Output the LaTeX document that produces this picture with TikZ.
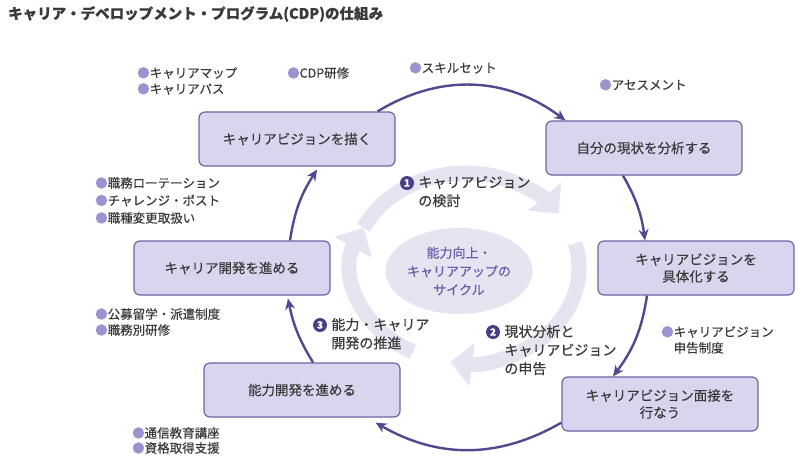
\documentclass[tikz,border=0pt]{standalone}
\usepackage{fontspec}
\setmainfont{Noto Sans CJK JP}[FakeBold=0.4]
\usepackage{tikz}
\usetikzlibrary{positioning, arrows.meta, shapes.geometric}
\definecolor{boxfill}{HTML}{D9D5EE}
\definecolor{boxline}{HTML}{6F64A4}
\definecolor{flowc}{HTML}{54468F}
\definecolor{ringc}{HTML}{E6E4F1}
\definecolor{dotc}{HTML}{9D91CF}
\definecolor{numc}{HTML}{4B3C86}
\definecolor{coretxt}{HTML}{6A5BA8}
\definecolor{txt}{HTML}{3A3A3A}
\newcommand\dotmark{\textcolor{dotc}{●}}

\begin{document}
\begin{tikzpicture}[x=1pt, y=1pt, on grid,
    stage/.style={draw=boxline, fill=boxfill, line width=1.2pt, rounded corners=6pt,
      minimum width=196pt, minimum height=54pt, align=center, text=txt,
      font=\fontsize{13.5}{17}\selectfont},
    flow/.style={color=flowc, line width=2.4pt, -{Stealth[length=11pt,width=10pt]}},
    ring/.style={draw=ringc, line width=15pt, -{Triangle[length=22pt,width=42pt]}},
    items/.style={align=left, inner sep=0pt, anchor=north west, text=txt,
      font=\fontsize{12.5}{16}\selectfont},
    numc/.style={circle, fill=numc, text=white, inner sep=0pt, minimum size=14pt,
      font=\bfseries\fontsize{10}{10}\selectfont},
    lab/.style={align=left, inner sep=0pt, anchor=north west, xshift=4pt, text=txt,
      font=\fontsize{14}{18.5}\selectfont}]
  \useasboundingbox (0,0) rectangle (805,-464);

  \node[anchor=west, inner sep=0pt, text=txt, font=\bfseries\fontsize{14.5}{16}\selectfont]
    (title) at (8,-14) {キャリア・デベロップメント・プログラム(CDP)の仕組み};

  % 中央のサイクル
  \coordinate (ctr) at (466,-268);
  \draw[ring] ([shift={(155:113 and 95)}]ctr) arc[start angle=155, end angle=35, x radius=113, y radius=95];
  \draw[ring] ([shift={(15:113 and 95)}]ctr) arc[start angle=15, end angle=-98, x radius=113, y radius=95];
  \draw[ring] ([shift={(-118:113 and 95)}]ctr) arc[start angle=-118, end angle=-205, x radius=113, y radius=95];
  \node[ellipse, fill=ringc, minimum width=134pt, minimum height=86pt, inner sep=0pt,
    align=center, text=coretxt, font=\fontsize{13}{18.5}\selectfont]
    (core) at (459,-271) {能力向上・\\キャリアアップの\\サイクル};

  % 各ステップ
  \node[stage] (s_1) at (297,-139) {キャリアビジョンを描く};
  \node[stage] (s_2) [below right=9pt and 347pt of s_1] {自分の現状を分析する};
  \node[stage] (s_3) [below right=120pt and 52pt of s_2] {キャリアビジョンを\\具体化する};
  \node[stage] (s_4) [below left=136pt and 36pt of s_3] {キャリアビジョン面接を\\行なう};
  \node[stage] (s_5) [above left=14pt and 358pt of s_4] {能力開発を進める};
  \node[stage] (s_6) [above left=122pt and 70pt of s_5] {キャリア開発を進める};

  \path[flow]
    ([xshift=-18pt]s_1.north east) edge[bend left=34] ([xshift=20pt]s_2.north west)
    ([xshift=-21pt]s_2.south) edge[bend left=11] ([xshift=-51pt]s_3.north)
    ([xshift=-49pt]s_3.south) edge[bend left=14] ([xshift=-47pt]s_4.north)
    ([yshift=9pt]s_4.south west) edge[bend left=30] ([xshift=-25pt,yshift=-5pt]s_5.south east)
    ([xshift=11pt]s_5.north) edge[bend left=10] ([xshift=56pt,yshift=-3pt]s_6.south)
    ([xshift=58pt]s_6.north) edge[bend left=12] ([xshift=20pt,yshift=-3pt]s_1.south);

  % 番号つきの説明
  \node[numc] (n_1) at (407,-183) {1};
  \node[lab] (l_1) at (n_1.east |- n_1.north) {キャリアビジョン\\の検討};
  \node[numc] (n_2) at (493,-332) {2};
  \node[lab] (l_2) at (n_2.east |- n_2.north) {現状分析と\\キャリアビジョン\\の申告};
  \node[numc] (n_3) at (320,-325) {3};
  \node[lab] (l_3) at (n_3.east |- n_3.north) {能力・キャリア\\開発の推進};

  % 施策
  \node[items] (m_1) at (137,-67) {\dotmark キャリアマップ\\\dotmark キャリアパス};
  \node[items] (m_2) at (287,-67) {\dotmark CDP研修};
  \node[items] (m_3) at (409,-62) {\dotmark スキルセット};
  \node[items] (m_4) at (599,-79) {\dotmark アセスメント};
  \node[items, font=\fontsize{12.5}{17.5}\selectfont] (m_5) at (95,-177)
    {\dotmark 職務ローテーション\\\dotmark チャレンジ・ポスト\\\dotmark 職種変更取扱い};
  \node[items] (m_6) at (95,-308) {\dotmark 公募留学・派遣制度\\\dotmark 職務別研修};
  \node[items, font=\fontsize{12.5}{15}\selectfont] (m_7) at (132,-427) {\dotmark 通信教育講座\\\dotmark 資格取得支援};
  \node[items] (m_8) at (661,-326) {\dotmark キャリアビジョン\\\hphantom{●}申告制度};
\end{tikzpicture}
\end{document}
